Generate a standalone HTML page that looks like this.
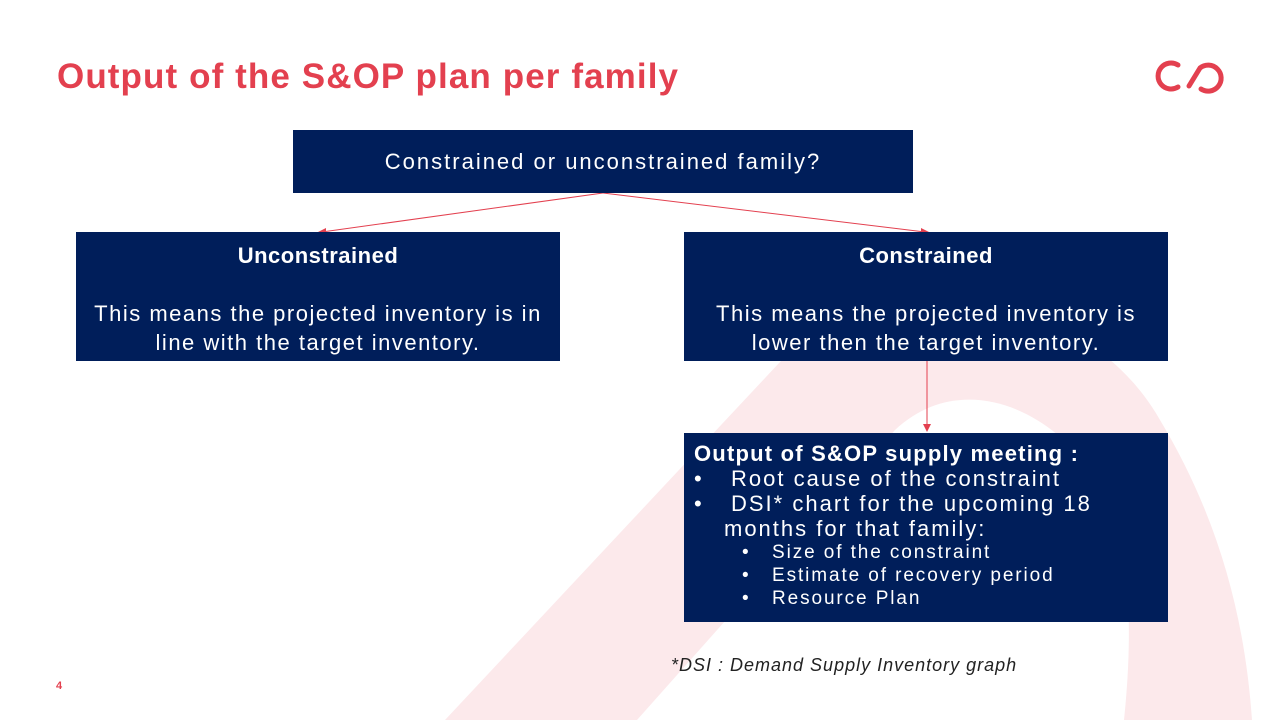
<!DOCTYPE html>
<html><head><meta charset="utf-8"><style>
body{margin:0;width:1280px;height:720px;background:#fff;position:relative;overflow:hidden;font-family:"Liberation Sans",sans-serif}
.t{position:absolute;left:57px;top:57px;color:#e3404f;font-weight:bold;font-size:35px;letter-spacing:1.1px}
.box{position:absolute;background:#001e5a;color:#fff;box-sizing:border-box}
.c{text-align:center}
</style></head><body>
<svg width="1280" height="720" style="position:absolute;left:0;top:0">
<path d="M445 720 L780 362 C880 270 1080 280 1160 420 C1220 520 1245 620 1252 720 Z" fill="#fce9eb"/>
<path d="M637 720 L895 430 C970 360 1080 420 1118 520 C1135 600 1128 680 1124 720 Z" fill="#fff"/>
<line x1="603" y1="193" x2="322" y2="232" stroke="#e3404f" stroke-width="1"/>
<line x1="603" y1="193" x2="925" y2="232" stroke="#e3404f" stroke-width="1"/>
<polygon points="318,232 326,228 326,235" fill="#e3404f"/>
<polygon points="929,232 921,228 921,235" fill="#e3404f"/>
<line x1="927" y1="361" x2="927" y2="426" stroke="#e3404f" stroke-width="1"/>
<polygon points="923,424 931,424 927,432" fill="#e3404f"/>
<path d="M1178 65 A13 13 0 1 0 1178 87" fill="none" stroke="#e3404f" stroke-width="5" stroke-linecap="round"/>
<path d="M1189 86 L1200 68 A13 13 0 1 1 1201 89" fill="none" stroke="#e3404f" stroke-width="5" stroke-linecap="round"/>
</svg>
<div class="t">Output of the S&amp;OP plan per family</div>
<div class="box c" style="left:293px;top:130px;width:620px;height:63px;font-size:22px;line-height:63px;letter-spacing:2px">Constrained or unconstrained family?</div>
<div class="box c" style="left:76px;top:232px;width:484px;height:129px;font-size:22px;line-height:29px;padding-top:9px;letter-spacing:1.5px"><b style="letter-spacing:0.5px">Unconstrained</b><br><br>This means the projected inventory is in<br>line with the target inventory.</div>
<div class="box c" style="left:684px;top:232px;width:484px;height:129px;font-size:22px;line-height:29px;padding-top:9px;letter-spacing:1.5px"><b style="letter-spacing:0.5px">Constrained</b><br><br>This means the projected inventory is<br>lower then the target inventory.</div>
<div class="box" style="left:684px;top:433px;width:484px;height:189px;font-size:22px;line-height:25px;padding:8px 0 0 10px;letter-spacing:2px">
<b style="letter-spacing:1.2px">Output of S&amp;OP supply meeting :</b><br>
<span style="display:inline-block;width:37px">•</span>Root cause of the constraint<br>
<span style="display:inline-block;width:37px">•</span>DSI* chart for the upcoming 18<br>
<span style="padding-left:30px">months for that family:</span><br>
<div style="font-size:19px;line-height:23px;padding-left:48px;letter-spacing:1.9px">
<span style="display:inline-block;width:30px">•</span>Size of the constraint<br>
<span style="display:inline-block;width:30px">•</span>Estimate of recovery period<br>
<span style="display:inline-block;width:30px">•</span>Resource Plan</div>
</div>
<div style="position:absolute;left:671px;top:655px;font-size:18px;font-style:italic;color:#222;letter-spacing:1px">*DSI : Demand Supply Inventory graph</div>
<div style="position:absolute;left:56px;top:680px;font-size:11px;color:#e3404f;font-weight:bold">4</div>
</body></html>
